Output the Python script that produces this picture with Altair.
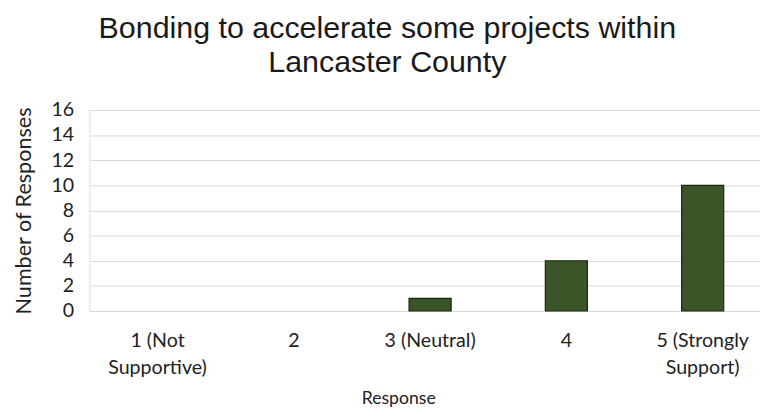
import altair as alt
import pandas as pd

categories = ["1 (Not|Supportive)", "2", "3 (Neutral)", "4", "5 (Strongly|Support)"]
counts = [0, 0, 1, 4, 10]

df = pd.DataFrame({"Response": categories, "Count": counts})

font = "Lato"

chart = alt.Chart(df).transform_filter("datum.Count > 0").mark_bar(
    color="#3a5527", stroke="#1c2612", strokeWidth=1.2
).encode(
    x=alt.X("Response:N", sort=categories,
            scale=alt.Scale(domain=categories, paddingInner=0.691, paddingOuter=0.306, align=0.565),
            axis=alt.Axis(title="Response", labelAngle=0, ticks=False, domain=False,
                          labelExpr="split(datum.label, '|')",
                          labelFontSize=20, labelColor="#222222", labelFont=font,
                          labelLineHeight=28, labelPadding=20, labelBaseline="top",
                          titleFont=font, titleFontSize=18, titleFontWeight="normal",
                          titleColor="#222222", titlePadding=12, titleX=315)),
    y=alt.Y("Count:Q", scale=alt.Scale(domain=[0, 16]),
            axis=alt.Axis(title="Number of Responses", values=list(range(0, 17, 2)),
                          ticks=False, domain=False, grid=True, gridColor="#d9d9d9",
                          labelFontSize=20, labelColor="#222222", labelFont=font,
                          labelPadding=16,
                          titleFont=font, titleFontSize=22, titleFontWeight="normal",
                          titleColor="#222222", titlePadding=16)),
).properties(
    width=684, height=205,
    title=alt.TitleParams(
        text=["Bonding to accelerate some projects within", "Lancaster County"],
        font="Liberation Sans", fontSize=31, fontWeight="normal", color="#1a1a1a",
        anchor="middle", frame="bounds", lineHeight=34, offset=22, dx=1,
    ),
).configure_view(stroke=None).configure(padding={"left": 4, "top": 2, "right": 0, "bottom": 0})

chart.save("out.html", embed_options={"renderer": "svg", "actions": False})
